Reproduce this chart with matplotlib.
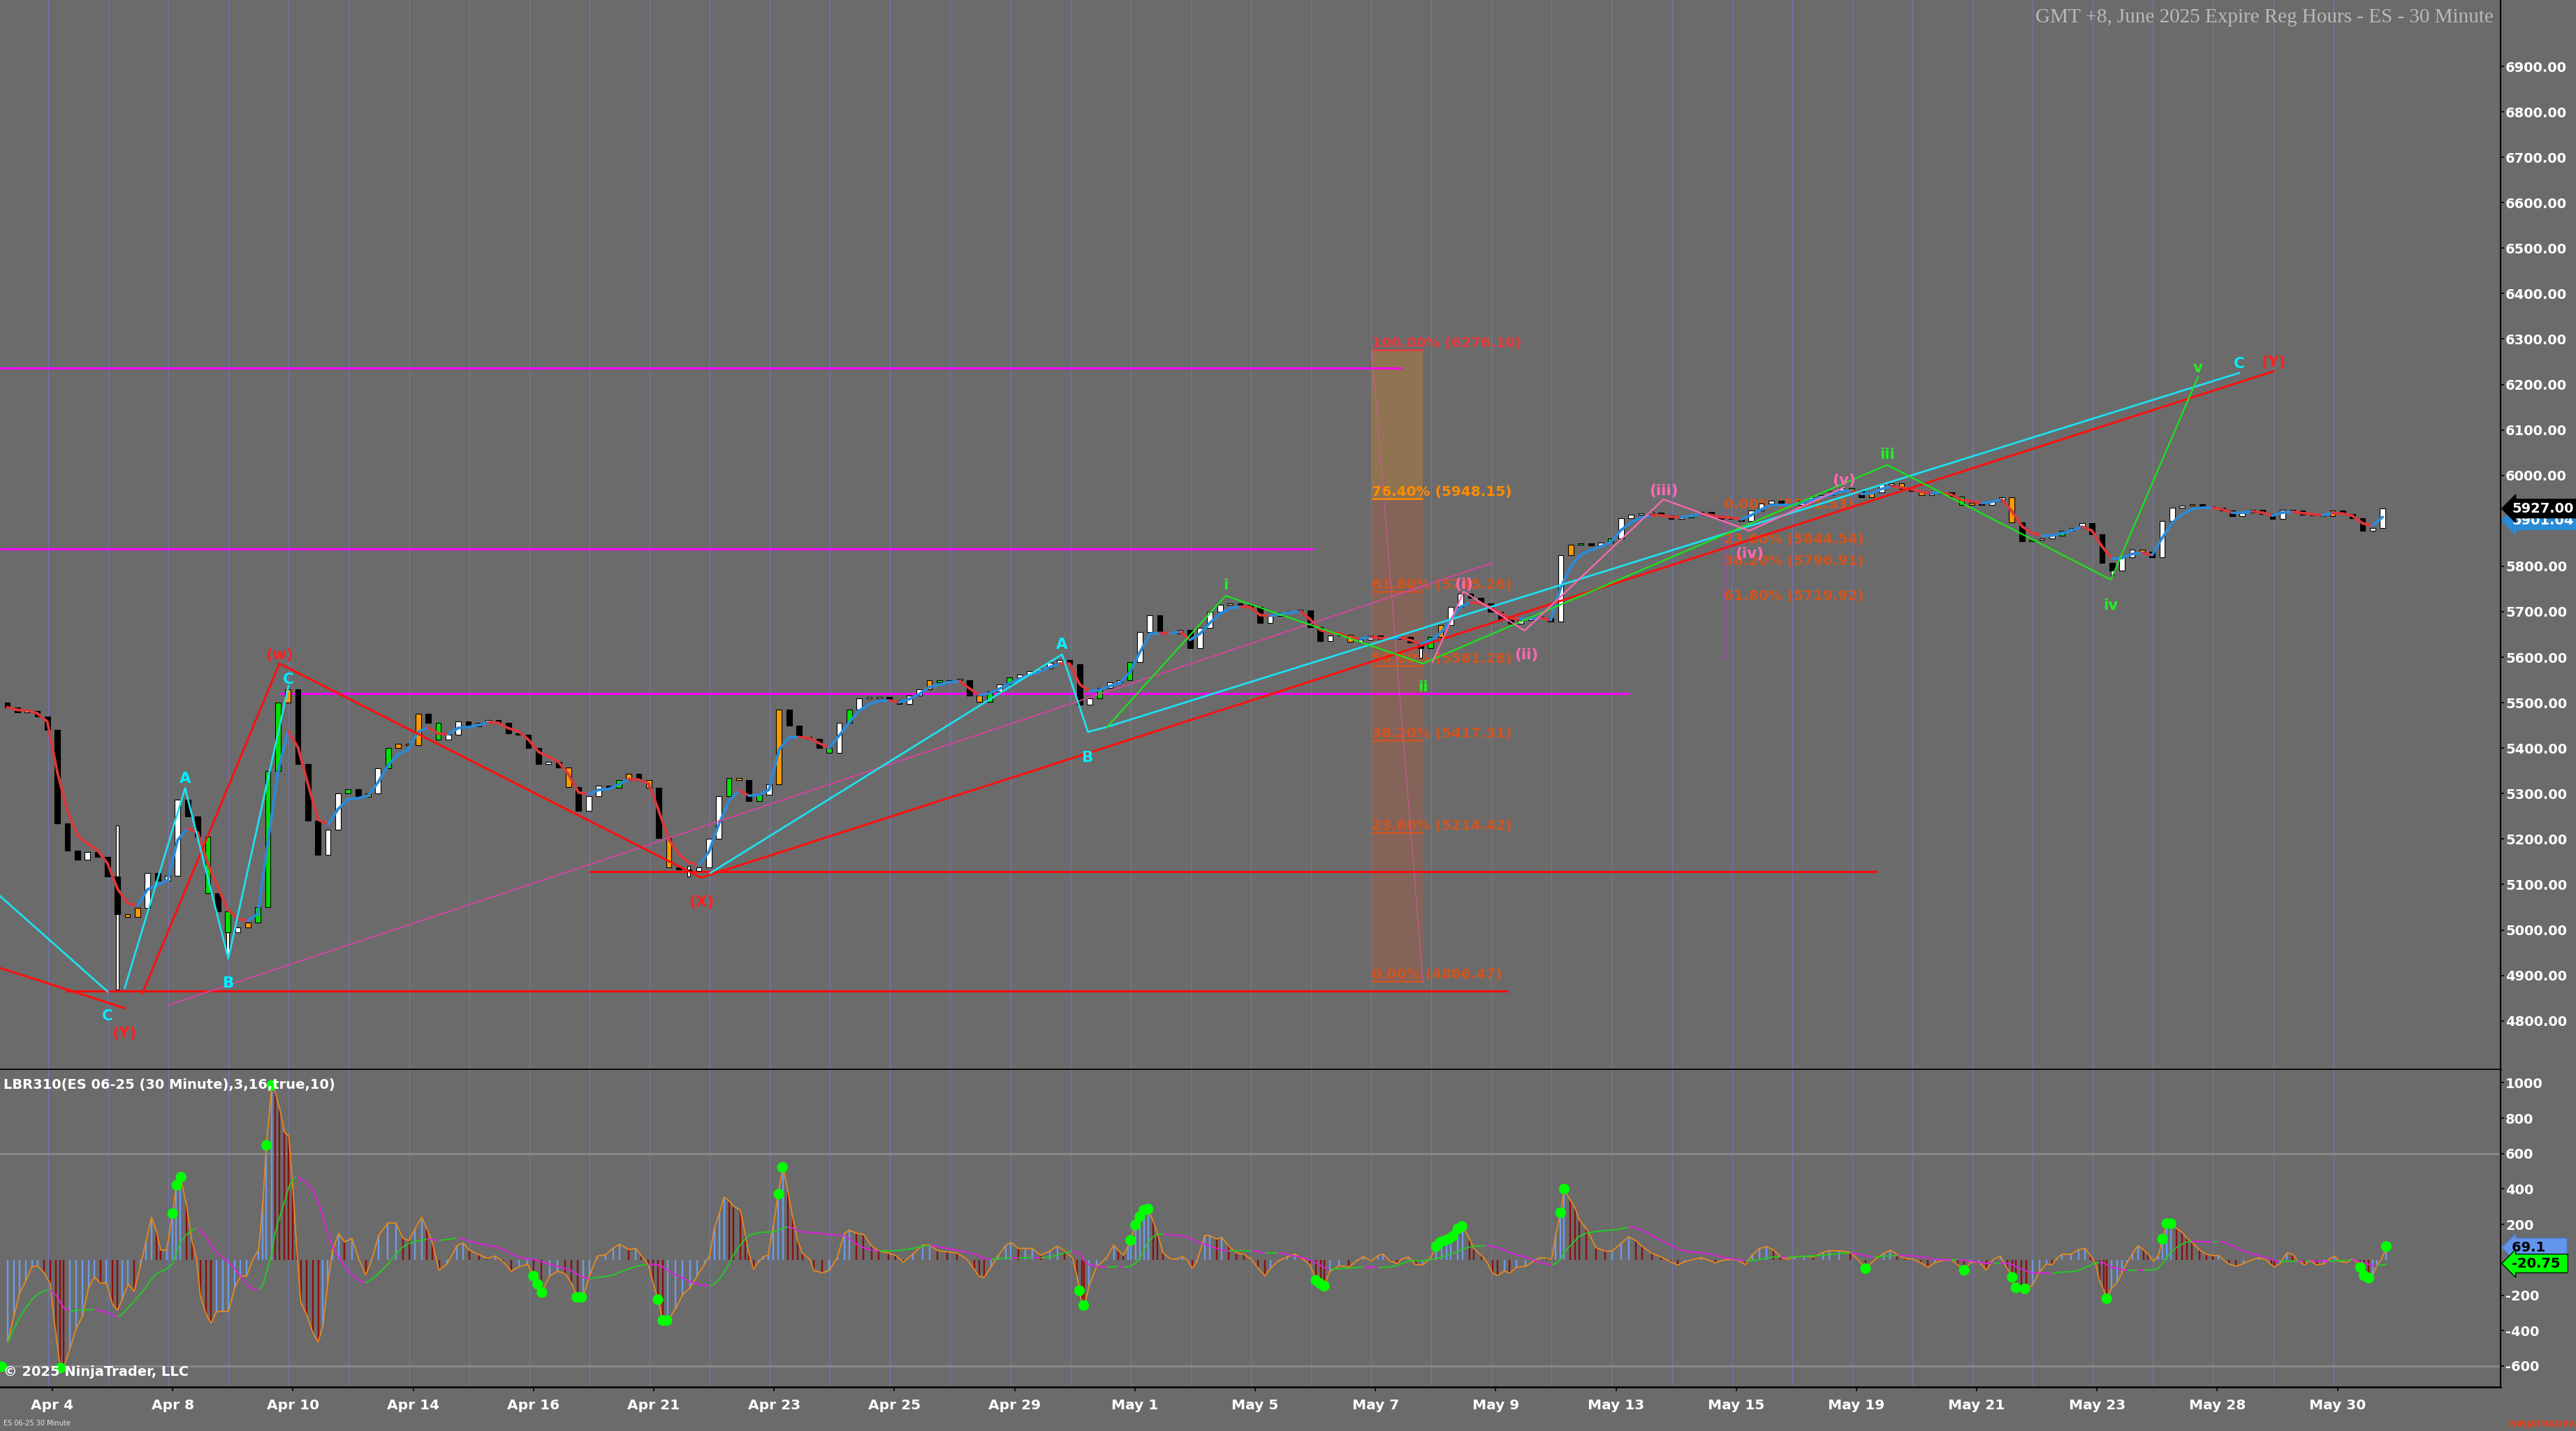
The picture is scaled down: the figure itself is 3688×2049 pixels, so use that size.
import numpy as np
import pandas as pd
import matplotlib
matplotlib.use("Agg")
from matplotlib import pyplot as plt
from matplotlib.collections import LineCollection
from matplotlib.transforms import blended_transform_factory
from matplotlib.ticker import StrMethodFormatter

plt.rcParams['font.family'] = ['DejaVu Sans']
plt.rcParams['font.weight'] = 'bold'
plt.rcParams['axes.unicode_minus'] = False

BG = '#6b6b6b'

# ---------------- data ----------------
first_day = -0.75   # session position of the first bar
per_day = 6         # bars per session
first_open = 5500

# closes, one row per session
closes = [
    5490, 5478, 5482, 5470, 5440, 5235,
    5175, 5155, 5172, 5160, 5118, 5034,
    5028, 5048, 5125, 5108, 5119, 5287,
    5250, 5205, 5080, 5040, 4995, 5005,
    5016, 5050, 5350, 5500, 5530, 5365,
    5240, 5165, 5220, 5300, 5310, 5292,
    5300, 5355, 5400, 5410, 5407, 5475,
    5455, 5418, 5430, 5458, 5448, 5455,
    5462, 5455, 5432, 5430, 5400, 5365,
    5370, 5358, 5315, 5262, 5295, 5318,
    5312, 5330, 5343, 5330, 5312, 5202,
    5138, 5133, 5130, 5138, 5200, 5294,
    5335, 5330, 5284, 5298, 5320, 5485,
    5450, 5425, 5420, 5400, 5389, 5455,
    5485, 5509, 5510, 5512, 5505, 5497,
    5515, 5530, 5550, 5545, 5550, 5550,
    5515, 5502, 5525, 5540, 5555, 5562,
    5570, 5575, 5588, 5594, 5585, 5495,
    5509, 5532, 5545, 5550, 5590, 5655,
    5692, 5655, 5652, 5660, 5620, 5665,
    5700, 5716, 5719, 5715, 5710, 5675,
    5690, 5698, 5702, 5703, 5666, 5636,
    5648, 5650, 5634, 5638, 5648, 5640,
    5640, 5645, 5632, 5620, 5645, 5670,
    5710, 5740, 5730, 5718, 5700, 5684,
    5674, 5682, 5688, 5686, 5678, 5825,
    5848, 5850, 5846, 5852, 5862, 5906,
    5914, 5917, 5918, 5912, 5905, 5908,
    5914, 5919, 5910, 5904, 5906, 5899,
    5922, 5938, 5944, 5935, 5935, 5944,
    5952, 5957, 5964, 5972, 5968, 5952,
    5962, 5980, 5982, 5970, 5966, 5957,
    5960, 5962, 5953, 5935, 5940, 5935,
    5945, 5952, 5896, 5855, 5858, 5862,
    5868, 5878, 5885, 5895, 5870, 5808,
    5790, 5820, 5836, 5832, 5820, 5900,
    5929, 5934, 5937, 5932, 5929, 5922,
    5910, 5918, 5924, 5915, 5905, 5925,
    5922, 5914, 5912, 5910, 5922, 5915,
    5906, 5878, 5885, 5927,
]

wick_bar = [11, 22, 68, 141, 210]
wick_lo = [4869, 4943, 5118, 5598, 5780]
wick_hi = [5230, 5000, 5140, 5625, 5800]

green_bar = [20, 22, 25, 26, 27, 34, 38, 43, 61, 72, 75, 82, 84, 93, 98, 100, 109,
             112, 133, 139, 142, 157, 160, 168, 172, 184, 195, 202, 205, 220]
orange_bar = [12, 13, 24, 28, 36, 39, 40, 41, 47, 56, 62, 64, 66, 73, 77, 80, 92, 95,
              97, 103, 116, 134, 143, 156, 186, 189, 191, 196, 200, 213, 218, 228, 232]

day_labels = ['Apr 4', 'Apr 8', 'Apr 10', 'Apr 14', 'Apr 16', 'Apr 21', 'Apr 23',
              'Apr 25', 'Apr 29', 'May 1', 'May 5', 'May 7', 'May 9', 'May 13',
              'May 15', 'May 19', 'May 21', 'May 23', 'May 28', 'May 30']

# LBR310 oscillator (session position, value)
osc_points = [
    (-0.74, -465), (-0.64, -318), (-0.54, -185), (-0.44, -118), (-0.34, -39), (-0.24, -36),
    (-0.14, -72), (-0.04, -132), (0.06, -425), (0.13, -598), (0.19, -604), (0.29, -505),
    (0.40, -385), (0.50, -318), (0.60, -158), (0.70, -98), (0.80, -132), (0.90, -132),
    (1.00, -252), (1.08, -285), (1.16, -225), (1.26, -138), (1.36, -178), (1.46, -39),
    (1.56, 108), (1.65, 241), (1.73, 161), (1.80, 55), (1.90, 55), (2.00, 261), (2.06, 421),
    (2.13, 467), (2.23, 308), (2.32, 108), (2.40, 0), (2.46, -205), (2.56, -312), (2.64, -358),
    (2.73, -292), (2.83, -292), (2.93, -292), (3.03, -158), (3.13, -92), (3.23, -92), (3.33, 0),
    (3.43, 55), (3.50, 321), (3.56, 654), (3.65, 987), (3.70, 953), (3.78, 853), (3.86, 720),
    (3.93, 700), (4.00, 401), (4.06, 81), (4.13, -238), (4.23, -312), (4.33, -411), (4.42, -465),
    (4.50, -371), (4.58, -132), (4.66, 55), (4.76, 148), (4.86, 101), (4.98, 121), (5.10, 0),
    (5.21, -85), (5.30, -12), (5.43, 141), (5.58, 208), (5.71, 208), (5.83, 121), (5.93, 108),
    (6.03, 174), (6.14, 241), (6.23, 174), (6.32, 95), (6.43, -59), (6.56, -25), (6.73, 81),
    (6.83, 95), (6.93, 55), (7.10, 28), (7.23, 8), (7.36, 21), (7.50, -12), (7.63, -65),
    (7.76, -39), (7.90, -25), (8.00, -92), (8.13, -185), (8.27, -92), (8.40, -65), (8.53, -79),
    (8.63, -132), (8.73, -212), (8.83, -205), (8.93, -92), (9.06, 21), (9.20, 28), (9.33, 68),
    (9.43, 88), (9.58, 58), (9.70, 64), (9.79, 25), (9.91, -28), (9.99, -133), (10.07, -225),
    (10.15, -343), (10.23, -343), (10.36, -278), (10.48, -199), (10.60, -159), (10.72, -93),
    (10.85, -21), (10.93, 25), (11.01, 183), (11.09, 262), (11.17, 354), (11.25, 334),
    (11.33, 301), (11.44, 282), (11.52, 143), (11.58, 38), (11.66, -54), (11.74, -14),
    (11.82, 18), (11.90, 25), (11.99, 196), (12.07, 374), (12.15, 525), (12.23, 387),
    (12.31, 242), (12.39, 110), (12.47, 38), (12.60, 0), (12.66, -60), (12.80, -74),
    (12.92, -60), (13.05, 12), (13.17, 150), (13.25, 167), (13.37, 150), (13.49, 143),
    (13.62, 78), (13.74, 51), (13.90, 38), (14.02, 25), (14.15, -14), (14.31, 32), (14.47, 84),
    (14.59, 84), (14.72, 51), (14.88, 45), (15.04, 38), (15.20, 5), (15.33, -54), (15.41, -93),
    (15.49, -100), (15.61, -41), (15.73, 25), (15.86, 84), (15.94, 97), (16.06, 64), (16.18, 64),
    (16.30, 64), (16.43, 25), (16.59, 51), (16.71, 78), (16.83, 51), (16.96, 12), (17.04, -93),
    (17.12, -251), (17.16, -258), (17.24, -146), (17.36, -41), (17.53, 12), (17.65, 84),
    (17.73, 51), (17.81, 25), (17.89, 78), (17.93, 110), (18.01, 196), (18.08, 242),
    (18.15, 282), (18.22, 288), (18.30, 222), (18.38, 143), (18.47, 38), (18.59, 5), (18.71, 5),
    (18.79, 18), (18.87, -1), (18.95, -47), (19.03, -14), (19.16, 137), (19.24, 137),
    (19.36, 117), (19.44, 128), (19.56, 78), (19.69, 38), (19.81, 32), (19.93, 5), (20.05, -47),
    (20.16, -91), (20.26, -47), (20.38, -8), (20.54, 18), (20.66, 32), (20.79, 5), (20.91, -28),
    (21.01, -113), (21.09, -133), (21.15, -146), (21.24, -67), (21.40, -34), (21.56, -41),
    (21.68, -8), (21.80, 18), (21.93, -8), (22.05, 25), (22.13, 32), (22.25, -8), (22.36, -21),
    (22.44, 3), (22.55, 16), (22.67, -28), (22.79, -28), (22.91, 7), (23.01, 75), (23.10, 104),
    (23.18, 114), (23.25, 125), (23.37, 174), (23.45, 193), (23.57, 114), (23.64, 62),
    (23.76, 25), (23.84, -4), (23.95, -76), (24.03, -89), (24.15, -63), (24.23, -76),
    (24.34, -43), (24.50, -37), (24.62, -11), (24.73, 12), (24.85, 9), (24.93, 3), (25.00, 141),
    (25.08, 266), (25.14, 397), (25.24, 338), (25.32, 292), (25.39, 226), (25.51, 174),
    (25.67, 68), (25.82, 49), (25.94, 49), (26.09, 95), (26.21, 130), (26.33, 108), (26.44, 75),
    (26.60, 36), (26.75, 16), (26.91, -11), (27.03, -30), (27.14, -11), (27.30, 3), (27.42, 12),
    (27.53, -1), (27.65, -17), (27.76, -4), (27.92, 3), (28.04, -4), (28.15, -28), (28.27, 29),
    (28.39, 64), (28.50, 75), (28.62, 55), (28.74, 16), (28.85, 3), (28.97, 16), (29.13, 20),
    (29.28, 16), (29.44, 42), (29.55, 51), (29.71, 51), (29.90, 42), (30.02, 3), (30.15, -50),
    (30.29, -4), (30.45, 36), (30.56, 55), (30.68, 29), (30.80, 9), (30.95, 3), (31.07, -17),
    (31.19, -43), (31.30, -17), (31.42, -4), (31.58, -1), (31.69, -30), (31.79, -57),
    (31.89, -17), (32.03, -11), (32.16, -57), (32.28, 3), (32.39, 20), (32.51, -50),
    (32.59, -96), (32.65, -155), (32.74, -162), (32.82, -168), (32.93, -142), (33.04, -69),
    (33.16, -23), (33.25, -29), (33.34, 11), (33.42, 31), (33.57, 31), (33.69, 57), (33.80, 64),
    (33.89, 24), (33.97, -13), (34.04, -116), (34.11, -169), (34.16, -220), (34.24, -162),
    (34.33, -129), (34.41, -76), (34.50, -16), (34.59, 37), (34.68, 80), (34.77, 57),
    (34.85, 31), (34.94, -9), (35.02, 24), (35.09, 117), (35.16, 204), (35.23, 204),
    (35.32, 177), (35.41, 157), (35.49, 124), (35.58, 97), (35.70, 57), (35.82, 31),
    (35.93, 24), (36.02, 24), (36.11, -3), (36.19, -23), (36.31, -36), (36.43, -23),
    (36.55, -3), (36.69, 11), (36.81, 0), (36.90, -29), (36.95, -40), (37.04, -23), (37.16, 40),
    (37.25, 31), (37.33, -3), (37.45, -29), (37.54, -3), (37.65, -29), (37.77, -23), (37.86, 4),
    (37.95, 21), (38.03, -9), (38.15, -16), (38.24, 4), (38.33, -16), (38.38, -43),
    (38.44, -89), (38.52, -103), (38.59, -83), (38.65, -36), (38.73, 4), (38.81, 71),
]

dot_points = [
    (-0.84, -604), (0.14, -611), (2.00, 261), (2.07, 421), (2.14, 467), (3.56, 647), (3.65, 987),
    (8.00, -92), (8.07, -138), (8.14, -185), (8.72, -212), (8.80, -212), (10.07, -225),
    (10.15, -343), (10.22, -343), (12.08, 371), (12.14, 522), (17.08, -175), (17.15, -258),
    (17.93, 110), (18.01, 196), (18.08, 242), (18.15, 280), (18.22, 287), (21.01, -116),
    (21.08, -135), (21.15, -149), (23.01, 75), (23.08, 99), (23.15, 108), (23.22, 117),
    (23.29, 134), (23.37, 174), (23.44, 189), (25.08, 266), (25.14, 400), (30.15, -50),
    (31.79, -59), (32.59, -99), (32.65, -158), (32.80, -164), (34.16, -220), (35.09, 117),
    (35.16, 204), (35.23, 204), (38.38, -43), (38.44, -89), (38.52, -103), (38.81, 75),
]

last_price = 5927.00
smooth_last = 5901.04
osc_last = 69.1
sig_last = -20.75

# Fibonacci tools
fib_top, fib_bottom = 6276.10, 4886.47
fib_levels = [1.0, 0.764, 0.618, 0.5, 0.382, 0.236, 0.0]
fib2_zero, fib2_low = 5921.53, 5595.30
fib2_levels = [0.0, 0.236, 0.382, 0.618]

# hand drawn lines (session position, price)
red_a = ([-0.871, 1.203], [4916.3, 4827.9])
red_b = ([1.498, 3.775, 10.79, 36.93], [4861, 5586.2, 5115, 6229])
cyan_a = ([-0.871, 0.918], [5074.6, 4864.5])
cyan_b = ([1.203, 2.207, 2.925, 3.926], [4872.2, 5312, 4936.9, 5537])
cyan_c = ([10.94, 16.79, 17.22, 17.54, 36.36], [5125.3, 5606.2, 5435.6, 5446.8, 6225.4])
green_w = ([17.54, 19.51, 22.79, 30.51, 34.23, 35.68], [5446.8, 5735.3, 5586.2, 6023.1, 5770.6, 6217.3])
pink_w = ([22.95, 23.47, 24.48, 26.79, 28.22, 29.79], [5589.3, 5744.5, 5658.4, 5947.3, 5878.2, 5973.5])
pink_trend = ([1.93, 23.95], [4834.8, 5807.5])

magenta_lvls = [(6236, -0.871, 22.44), (5838, -0.871, 20.98), (5520, 3.77, 26.23)]
red_lvls = [(5129, 8.93, 30.35), (4866, 0.22, 24.2)]

red_lbl = [('(Y)', 1.196, 4772), ('(w)', 3.775, 5605), ('(X)', 10.79, 5061), ('(Y)', 36.93, 6248)]
cyan_lbl = [('C', 0.918, 4810), ('A', 2.207, 5332), ('B', 2.925, 4882), ('C', 3.926, 5551),
            ('A', 16.79, 5628), ('B', 17.22, 5379), ('C', 36.36, 6246)]
green_lbl = [('i', 19.51, 5758), ('ii', 22.79, 5534), ('iii', 30.51, 6045), ('iv', 34.23, 5714),
             ('v', 35.68, 6236)]
pink_lbl = [('(i)', 23.47, 5760), ('(ii)', 24.51, 5605), ('(iii)', 26.79, 5966),
            ('(iv)', 28.22, 5828), ('(v)', 29.79, 5989)]

# ---------------- figure ----------------
fig = plt.figure(figsize=(36.88, 20.49), dpi=100, facecolor=BG)
ax = fig.add_axes([0, 0.25281, 0.97072, 0.74719], facecolor=BG)
ax2 = fig.add_axes([0, 0.03075, 0.97072, 0.22157], facecolor=BG, sharex=ax)

ax.set_xlim(-0.871, 40.71)
ax.set_ylim(4693.5, 7046)
ax2.set_ylim(-718.8, 1072.6)

for k in range(0, 39):
    for a in (ax, ax2):
        a.axvline(k - 0.07, color='#7575bb', lw=0.75, zorder=1)

ax2.axhline(600, color='#878787', lw=2.2, zorder=1)
ax2.axhline(-600, color='#878787', lw=2.2, zorder=1)

# fib column
fx0, fx1 = 21.94, 22.79
f76 = fib_bottom + 0.764 * (fib_top - fib_bottom)
ax.fill_between([fx0, fx1], f76, fib_top, color='#ff8c00', alpha=0.25, lw=0, zorder=2)
ax.fill_between([fx0, fx1], fib_bottom, f76, color='#cf4f27', alpha=0.25, lw=0, zorder=2)
for lv in fib_levels:
    val = fib_bottom + lv * (fib_top - fib_bottom)
    col = '#e63c3c' if lv == 1.0 else ('#ff8c00' if lv == 0.764 else '#d2541e')
    ax.hlines(val, fx0, fx1, color=col, lw=1.8, zorder=2.6)
    ax.text(fx0, val, f'{lv * 100:.2f}% ({val:.2f})', color=col, fontsize=14.5,
            ha='left', va='bottom', zorder=2.6)
ax.plot([fx0, fx1], [fib_top, fib_bottom], color='#c85a9a', lw=0.8, zorder=2.6)

for lv in fib2_levels:
    val = fib2_zero - lv * (fib2_zero - fib2_low)
    ax.text(27.8, val, f'{lv * 100:.2f}% ({val:.2f})', color='#d2541e', fontsize=14.5,
            ha='left', va='bottom', zorder=2.6)
ax.plot([27.8, 27.8], [fib2_zero, fib2_low], color='#b040c0', lw=0.8, zorder=2.6)

for y, x0, x1 in magenta_lvls:
    ax.hlines(y, x0, x1, color='#ff00ff', lw=2.2, zorder=2.5)
for y, x0, x1 in red_lvls:
    ax.hlines(y, x0, x1, color='#ff0a0a', lw=2.2, zorder=2.5)

# candles
c = np.array(closes, float)
o = np.r_[first_open, c[:-1]]
x = first_day + np.arange(len(c)) / per_day
face = np.where(c >= o, 'white', 'black').astype(object)
face[green_bar] = '#00e000'
face[orange_bar] = '#ff9900'
body_lo = np.minimum(o, c)
body_h = np.maximum(np.abs(c - o), 3)
wb = np.array(wick_bar)
ax.bar(x[wb], np.array(wick_hi) - np.array(wick_lo), bottom=wick_lo, width=0.045,
       color='white', edgecolor='black', lw=0.8, zorder=3)
ax.bar(x, body_h, bottom=body_lo, width=0.09, color=list(face), edgecolor='black',
       lw=0.8, zorder=3.1)

# smoothed price line
sm = pd.Series(c).ewm(span=3, adjust=False).mean().to_numpy()
pts = np.column_stack([x, sm])
segs = np.stack([pts[:-1], pts[1:]], axis=1)
cols = np.where(np.diff(sm) >= 0, '#2b8ad8', '#d8393b')
ax.add_collection(LineCollection(segs, colors=cols, lw=2.8, zorder=4, capstyle='round'))

# wave lines
ax.plot(*pink_trend, color='#d2479b', lw=1.4, zorder=4.5)
ax.plot(*red_a, color='#ff1010', lw=2.2, zorder=5)
ax.plot(*red_b, color='#ff1010', lw=2.2, zorder=5)
for seg in (cyan_a, cyan_b, cyan_c):
    ax.plot(*seg, color='#1ee0f0', lw=2.0, zorder=5)
ax.plot(*green_w, color='#19e619', lw=1.6, zorder=5)
ax.plot(*pink_w, color='#ff69b4', lw=1.6, zorder=5)

for lbls, col in ((red_lbl, '#ff2020'), (cyan_lbl, '#00f0ff'), (green_lbl, '#22ee22'),
                  (pink_lbl, '#ff69b4')):
    for t, d, p in lbls:
        ax.text(d, p, t, color=col, fontsize=15.5, ha='center', va='center', zorder=7)

# oscillator panel
od, ov = (np.array(v, float) for v in zip(*osc_points))
hc = np.where(np.diff(np.r_[ov[0], ov]) >= 0, '#6d9be6', '#8b0f0f')
ax2.vlines(od, 0, ov, colors=hc, lw=1.7, zorder=3)
ax2.plot(od, ov, color='#e88a1c', lw=1.3, zorder=4)
sig = pd.Series(ov).rolling(12, min_periods=1).mean().to_numpy()
sp = np.column_stack([od, sig])
ssegs = np.stack([sp[:-1], sp[1:]], axis=1)
scols = np.where(np.diff(sig) >= 0, '#22cc22', '#e020e0')
ax2.add_collection(LineCollection(ssegs, colors=scols, lw=1.4, zorder=4.5))
dd, dv = zip(*dot_points)
ax2.scatter(dd, dv, s=120, color='#00ff00', edgecolors='none', zorder=6)

# axes styling
for a in (ax, ax2):
    a.yaxis.tick_right()
    a.spines['top'].set_visible(False)
    a.spines['left'].set_visible(False)
    a.spines['right'].set_color('black')
    a.spines['right'].set_linewidth(1.5)
    a.spines['bottom'].set_color('black')
    a.spines['bottom'].set_linewidth(1.8)
    a.tick_params(axis='y', direction='out', length=3.6, width=1.2, color='black',
                  labelcolor='white', labelsize=14, pad=1.5)

ax.set_yticks(np.arange(4800, 7000, 100))
ax.yaxis.set_major_formatter(StrMethodFormatter('{x:.2f}'))
ax.tick_params(axis='x', bottom=False, labelbottom=False)

ax2.set_yticks([-600, -400, -200, 200, 400, 600, 800, 1000])
ax2.yaxis.set_major_formatter(StrMethodFormatter('{x:.0f}'))
ax2.set_xticks(np.arange(0, 40, 2))
ax2.set_xticklabels(day_labels)
ax2.tick_params(axis='x', direction='out', length=4, width=1.2, color='black',
                labelcolor='white', labelsize=14.5, pad=8)

# right side value boxes
tr1 = blended_transform_factory(ax.transAxes, ax.transData)
ax.text(1.0045, smooth_last, f'{smooth_last:.2f}', transform=tr1, color='white', fontsize=14,
        ha='left', va='center', zorder=8, clip_on=False,
        bbox=dict(boxstyle='larrow,pad=0.2', fc='#2a8bd6', ec='#2a8bd6'))
ax.text(1.0045, last_price, f'{last_price:.2f}', transform=tr1, color='white', fontsize=14,
        ha='left', va='center', zorder=9, clip_on=False,
        bbox=dict(boxstyle='larrow,pad=0.2', fc='black', ec='black'))
tr2 = blended_transform_factory(ax2.transAxes, ax2.transData)
ax2.text(1.0045, osc_last, f'{osc_last:.1f}    ', transform=tr2, color='black', fontsize=14,
         ha='left', va='center', zorder=8, clip_on=False,
         bbox=dict(boxstyle='larrow,pad=0.2', fc='#6495ed', ec='#4a78c8'))
ax2.text(1.0045, sig_last, f'{sig_last:.2f} ', transform=tr2, color='black', fontsize=14,
         ha='left', va='center', zorder=9, clip_on=False,
         bbox=dict(boxstyle='larrow,pad=0.2', fc='#00ff00', ec='#0a0a0a'))

# texts
fig.text(3570 / 3688, 1 - 25 / 2049, 'GMT +8, June 2025 Expire Reg Hours - ES - 30 Minute',
         ha='right', va='center', family='Liberation Serif', fontweight='normal',
         fontsize=21, color='#b9b9b9')
ax2.text(0.0015, 1 - 22 / 454, 'LBR310(ES 06-25 (30 Minute),3,16,true,10)',
         transform=ax2.transAxes, ha='left', va='center', color='white', fontsize=14, zorder=8)
ax2.text(0.0015, 21 / 454, '\u00a9 2025 NinjaTrader, LLC', transform=ax2.transAxes,
         ha='left', va='center', color='white', fontsize=14, zorder=8)
fig.text(5 / 3688, 1 - 2038 / 2049, 'ES 06-25 30 Minute', ha='left', va='center',
         color='#e6e6e6', fontsize=7, fontweight='normal')
fig.text(1.0, 1 - 2040 / 2049, 'NINJATRADER', ha='right', va='center', color='#e8401c',
         fontsize=9)

fig.savefig('out.png', dpi=100, facecolor=BG)
